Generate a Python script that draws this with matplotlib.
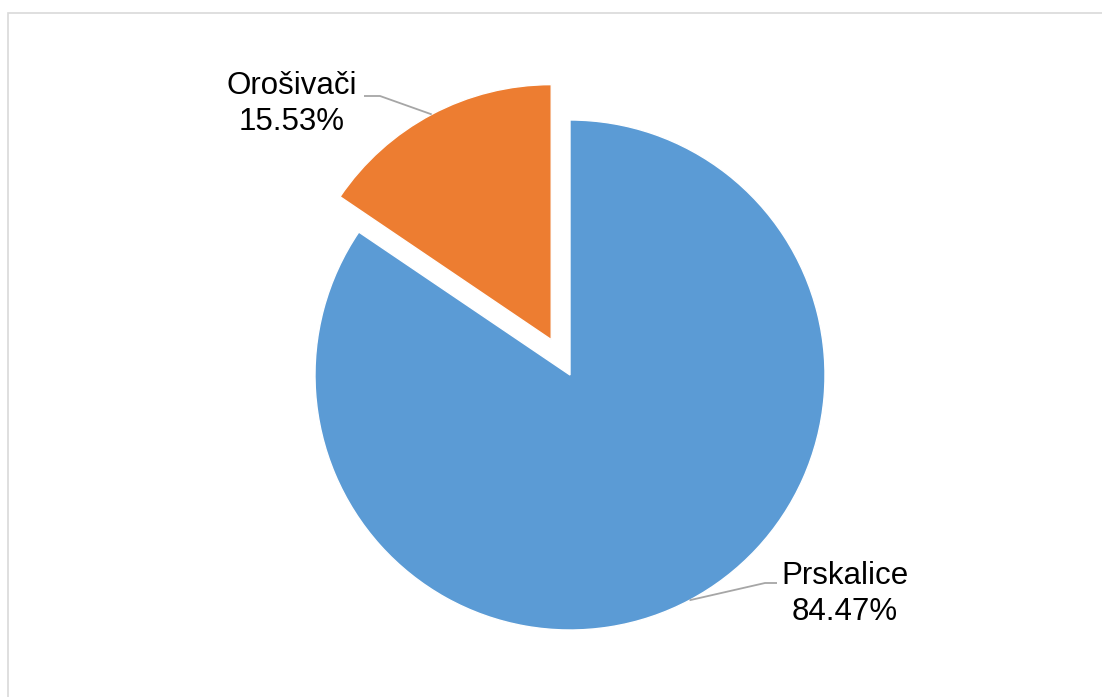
import numpy as np
import matplotlib
matplotlib.use("Agg")
import matplotlib.pyplot as plt
from matplotlib.patches import Rectangle

# ── data ─────────────────────────────────────────────────────────────────────
labels = ["Prskalice", "Orošivači"]
shares = [84.47, 15.53]
colors = ["#5B9BD5", "#ED7D31"]

# ── figure in pixel space ────────────────────────────────────────────────────
W, H = 1102, 697
fig = plt.figure(figsize=(W / 100, H / 100), dpi=100, facecolor="white")
ax = fig.add_axes([0, 0, 1, 1])

cx, cy, r = 570, H - 375, 255
explode = [0.0, 0.157 * r]   # pie() takes explode in data units

wedges, _ = ax.pie(shares, colors=colors, explode=explode, startangle=90,
                   counterclock=False, center=(cx, cy), radius=r,
                   wedgeprops=dict(edgecolor="white", linewidth=1.0))

# pie() resets the limits, so fix pixel space afterwards
ax.set_xlim(0, W)
ax.set_ylim(0, H)
ax.set_aspect("equal")
ax.axis("off")

# outer chart border
ax.add_patch(Rectangle((7.5, -20), W + 50, H - 12.5 + 20, fill=False,
                       edgecolor="#D9D9D9", linewidth=1.2, clip_on=False))

# ── labels with leader lines ─────────────────────────────────────────────────
lead_col = "#A6A6A6"
font = dict(family=["Liberation Sans", "DejaVu Sans"], fontsize=22.5,
            color="black", ha="center", va="center", linespacing=1.25)

# elbow/end points and text centre (layout) per slice
layout = [
    dict(elbow=(765, H - 583), end=(777, H - 583), text=(845, H - 594)),
    dict(elbow=(380, H - 96), end=(364, H - 96), text=(292, H - 104)),
]

for w, lab, val, lay in zip(wedges, labels, shares, layout):
    mid = np.deg2rad((w.theta1 + w.theta2) / 2)
    wx, wy = w.center
    p0 = (wx + w.r * np.cos(mid), wy + w.r * np.sin(mid))
    xs = [p0[0], lay["elbow"][0], lay["end"][0]]
    ys = [p0[1], lay["elbow"][1], lay["end"][1]]
    ax.plot(xs, ys, color=lead_col, linewidth=1.3, solid_capstyle="butt")
    ax.text(lay["text"][0], lay["text"][1], f"{lab}\n{val:.2f}%", **font)

fig.savefig("out.png", dpi=100, facecolor="white")
